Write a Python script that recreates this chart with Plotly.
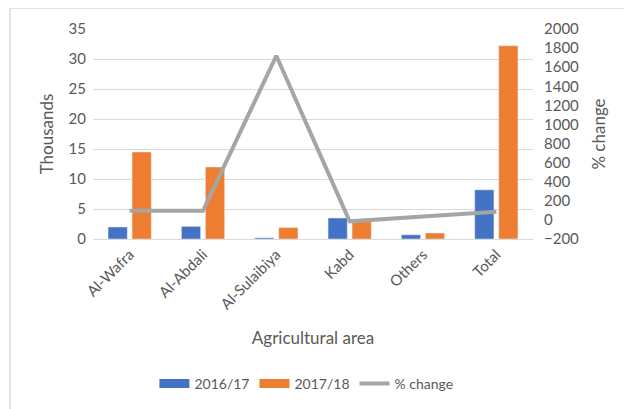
import plotly.graph_objects as go

categories = ["Al-Wafra", "Al-Abdali", "Al-Sulaibiya", "Kabd", "Others", "Total"]
val_2016 = [2.0, 2.1, 0.2, 3.5, 0.7, 8.2]
val_2017 = [14.5, 12.0, 1.9, 2.9, 1.0, 32.2]
pct_change = [95, 95, 1720, -15, 35, 85]

FONT = "Lato"
TXT = "#595959"
BLUE = "#4472C4"
ORANGE = "#ED7D31"
GRAY = "#A5A5A5"

fig = go.Figure()
fig.add_trace(go.Bar(x=categories, y=val_2016, name="2016/17", marker_color=BLUE, showlegend=False))
fig.add_trace(go.Bar(x=categories, y=val_2017, name="2017/18", marker_color=ORANGE, showlegend=False))
fig.add_trace(go.Scatter(x=categories, y=pct_change, name="% change", yaxis="y2",
                         mode="lines", line=dict(color=GRAY, width=4), showlegend=False))
# legend entries (wide swatches like the original)
fig.add_trace(go.Scatter(x=[None], y=[None], name="2016/17", mode="lines",
                         line=dict(color=BLUE, width=9)))
fig.add_trace(go.Scatter(x=[None], y=[None], name="2017/18", mode="lines",
                         line=dict(color=ORANGE, width=9)))
fig.add_trace(go.Scatter(x=[None], y=[None], name="% change", mode="lines",
                         line=dict(color=GRAY, width=4)))

fig.update_layout(
    width=624, height=401,
    margin=dict(l=85, r=99, t=21, b=170, autoexpand=False),
    paper_bgcolor="white", plot_bgcolor="white",
    font=dict(family=FONT, size=14, color=TXT),
    barmode="group", bargap=0.345, bargroupgap=0.2,
    xaxis=dict(tickangle=-45, showgrid=False, showline=True, linecolor="#D9D9D9",
               ticks="", automargin=False,
               title=dict(text="Agricultural area", font=dict(size=17, color=TXT), standoff=20),
               tickfont=dict(size=15, color=TXT)),
    yaxis=dict(range=[0, 35], dtick=5, showgrid=True, gridcolor="#D9D9D9", zeroline=False,
               automargin=False, ticklabelstandoff=6,
               title=dict(text="Thousands", font=dict(size=17, color=TXT), standoff=10),
               tickfont=dict(size=15, color=TXT)),
    yaxis2=dict(range=[-200, 2000], dtick=200, overlaying="y", side="right", showgrid=False,
                zeroline=False, automargin=False, ticklabelstandoff=10,
                title=dict(text="% change", font=dict(size=17, color=TXT), standoff=15),
                tickfont=dict(size=15, color=TXT)),
    legend=dict(orientation="h", x=0.485, xanchor="center", y=-0.69, yanchor="middle",
                font=dict(size=14, color=TXT), traceorder="normal", itemwidth=30),
    shapes=[
        dict(type="line", xref="paper", yref="paper", x0=-0.1886, x1=1.5, y0=1.1, y1=1.1,
             line=dict(color="#D9D9D9", width=1.5)),
        dict(type="line", xref="paper", yref="paper", x0=-0.1886, x1=-0.1886, y0=1.1, y1=-1.0,
             line=dict(color="#D9D9D9", width=1.5)),
    ],
)

fig.write_html("out.html")
